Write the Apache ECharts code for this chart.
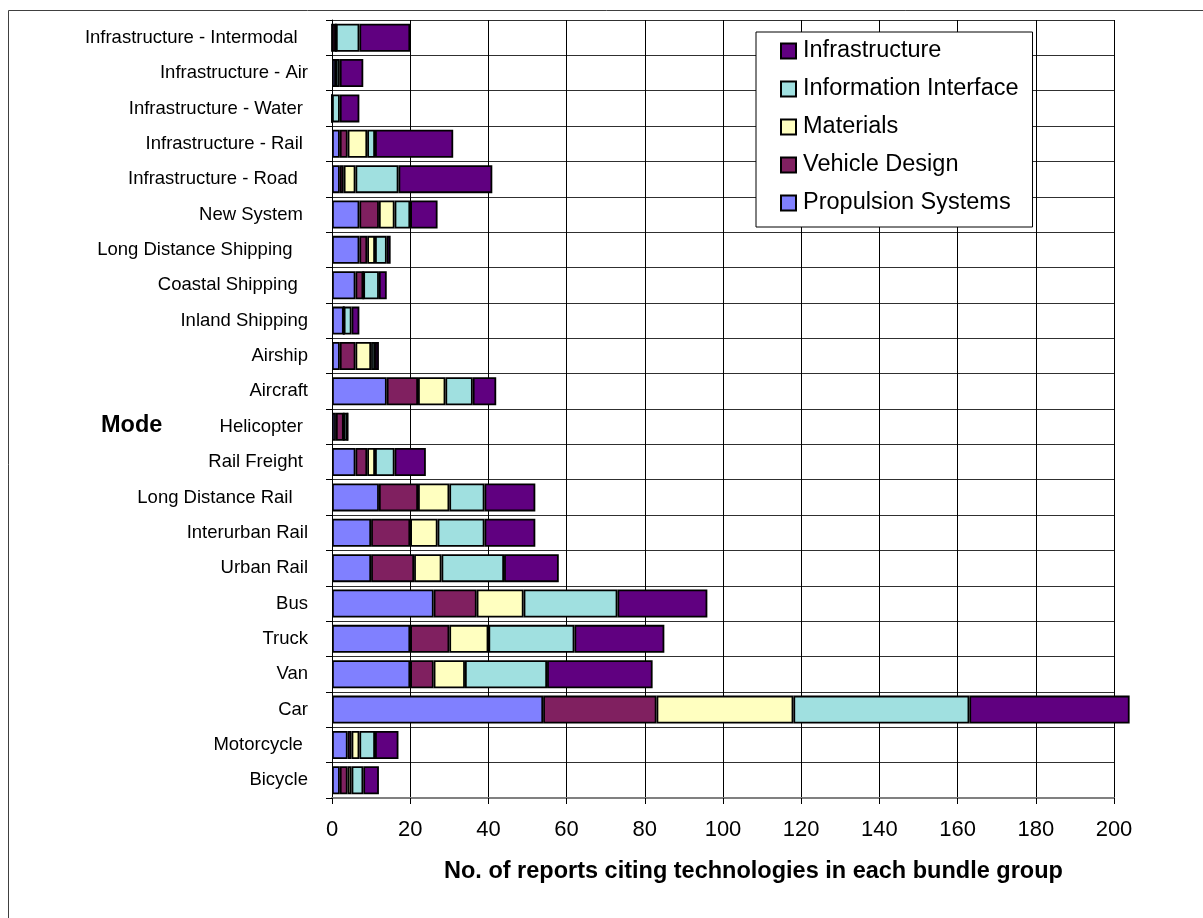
<!DOCTYPE html>
<html>
<head>
<meta charset="utf-8">
<script src="https://cdn.jsdelivr.net/npm/echarts@6/dist/echarts.min.js"></script>
<style>
  html, body { margin: 0; padding: 0; background: #fff; }
  #chart { width: 1203px; height: 918px; }
</style>
</head>
<body>
<div id="chart"></div>
<script>
// Transport modes, listed from top to bottom
const categories = [
  "Infrastructure - Intermodal  ", "Infrastructure - Air", "Infrastructure - Water ",
  "Infrastructure - Rail ", "Infrastructure - Road  ", "New System ",
  "Long Distance Shipping   ", "Coastal Shipping  ", "Inland Shipping", "Airship",
  "Aircraft", "Helicopter ", "Rail Freight ", "Long Distance Rail   ",
  "Interurban Rail", "Urban Rail", "Bus", "Truck", "Van", "Car",
  "Motorcycle ", "Bicycle"
];

// Number of reports citing each technology bundle group, per mode
const propulsionSystems    = [0, 1, 0, 2, 2, 7, 7, 6, 3, 2, 14, 1, 6, 12, 10, 10, 26, 20, 20, 54, 4, 2];
const vehicleDesign        = [1, 0, 0, 2, 1, 5, 2, 2, 0, 4, 8, 2, 3, 10, 10, 11, 11, 10, 6, 29, 1, 2];
const materials            = [0, 0, 0, 5, 3, 4, 2, 0, 0, 4, 7, 0, 2, 8, 7, 7, 12, 10, 8, 35, 2, 1];
const informationInterface = [6, 1, 2, 2, 11, 4, 3, 4, 2, 1, 7, 1, 5, 9, 12, 16, 24, 22, 21, 45, 4, 3];
const infrastructure       = [13, 6, 5, 20, 24, 7, 1, 2, 2, 1, 6, 0, 8, 13, 13, 14, 23, 23, 27, 41, 6, 4];

const xTicks = { min: 0, max: 200, interval: 20 };

const FONT = "Liberation Sans, Arial, sans-serif";

const seriesDefs = [
  { name: "Propulsion Systems",    data: propulsionSystems,    color: "#8080FF" },
  { name: "Vehicle Design",        data: vehicleDesign,        color: "#802060" },
  { name: "Materials",             data: materials,            color: "#FFFFC0" },
  { name: "Information Interface", data: informationInterface, color: "#A0E0E0" },
  { name: "Infrastructure",        data: infrastructure,       color: "#600080" }
];

const chart = echarts.init(document.getElementById("chart"), null, { renderer: "canvas" });

chart.setOption({
  animation: false,
  backgroundColor: "#ffffff",
  grid: { left: 332, right: 89, top: 20, bottom: 120, containLabel: false },
  legend: {
    orient: "vertical",
    left: 756,
    top: 32,
    data: seriesDefs.map(s => s.name).reverse(),
    backgroundColor: "#ffffff",
    borderColor: "#000000",
    borderWidth: 1,
    padding: [7, 14, 12, 24],
    itemWidth: 15,
    itemHeight: 15,
    itemGap: 14,
    icon: "rect",
    textStyle: { fontFamily: FONT, fontSize: 23.5, color: "#000", padding: [0, 0, 0, 2] }
  },
  xAxis: {
    type: "value",
    min: xTicks.min,
    max: xTicks.max,
    interval: xTicks.interval,
    axisLine: { show: true, lineStyle: { color: "#808080", width: 2 } },
    axisTick: { show: true, length: 6, lineStyle: { color: "#000", width: 1 } },
    axisLabel: { fontFamily: FONT, fontSize: 22, color: "#000", margin: 21 },
    splitLine: { show: true, lineStyle: { color: "#000", width: 1 } }
  },
  yAxis: {
    type: "category",
    inverse: true,
    data: categories,
    axisLine: { show: true, lineStyle: { color: "#000", width: 1 } },
    axisTick: { show: true, length: 6, lineStyle: { color: "#000", width: 1 } },
    axisLabel: { fontFamily: FONT, fontSize: 18.5, color: "#000", margin: 24 },
    splitLine: { show: true, lineStyle: { color: "#303030", width: 1 } }
  },
  series: seriesDefs.map(s => ({
    name: s.name,
    type: "bar",
    stack: "total",
    clip: false,
    barWidth: 28,
    data: s.data,
    itemStyle: { color: s.color, borderColor: "#000", borderWidth: 1.8 }
  })),
  graphic: [
    {
      type: "rect",
      left: 6, top: 8,
      shape: { width: 1400, height: 1100 },
      style: { fill: "none", stroke: "#404040", lineWidth: 1 },
      silent: true, z: -10
    },
    {
      type: "text",
      left: 101, top: 414,
      style: { text: "Mode", font: "bold 23.5px " + FONT, fill: "#000" }
    },
    {
      type: "text",
      left: 444, top: 860,
      style: {
        text: "No. of reports citing technologies in each bundle group",
        font: "bold 23.5px " + FONT, fill: "#000"
      }
    }
  ]
});
</script>
</body>
</html>
